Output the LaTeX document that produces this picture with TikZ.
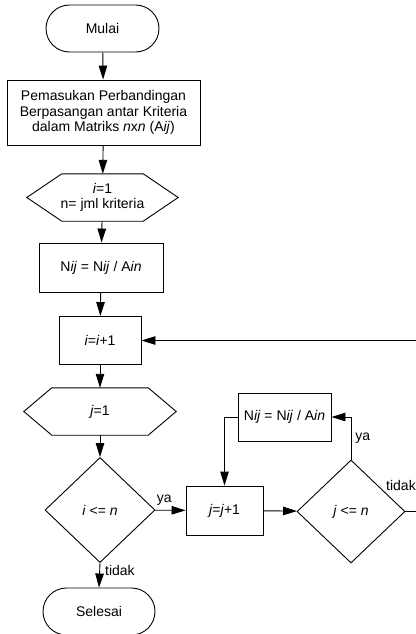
\documentclass[tikz,border=0pt]{standalone}
\usepackage{fontspec}
\setmainfont{Liberation Sans}
\usetikzlibrary{shapes.misc,shapes.geometric,arrows.meta}
\begin{document}
\begin{tikzpicture}[x=1pt,y=-1pt,
  every node/.style={font=\fontsize{14}{15.5}\selectfont, align=center, inner sep=0pt},
  terminal/.style={rounded rectangle, draw, line width=0.9pt, minimum width=113pt, minimum height=47pt},
  procbox/.style={rectangle, draw, line width=0.9pt},
  hexnode/.style={rectangle, minimum height=47pt},
  decision/.style={diamond, draw, line width=0.9pt, minimum width=110pt, minimum height=105pt},
  flow/.style={line width=0.9pt, -{Triangle[length=14pt,width=8.5pt]}},
  plain/.style={line width=0.9pt},
  lbl/.style={font=\fontsize{14}{15.5}\selectfont}
]
\useasboundingbox (0,0) rectangle (415,634);

% start / end
\node[terminal] (mulai) at (102.5,28.5) {Mulai};
\node[procbox, minimum width=193pt, minimum height=65pt] (input) at (103.5,112.5)
  {Pemasukan Perbandingan\\Berpasangan antar Kriteria\\dalam Matriks \textit{n}x\textit{n} (A\textit{ij})};

% initialisation hexagon
\node[hexnode, minimum width=151pt] (init) at (102.5,197.5) {\textit{i}=1\\n= jml kriteria};
\draw[plain] (init.west) -- ([xshift=35pt]init.north west) -- ([xshift=-35pt]init.north east)
  -- (init.east) -- ([xshift=-35pt]init.south east) -- ([xshift=35pt]init.south west) -- cycle;

\node[procbox, minimum width=124pt, minimum height=49pt] (norm1) at (101,267.5)
  {N\textit{ij} = N\textit{ij} / A\textit{in}};
\node[procbox, minimum width=82pt, minimum height=48pt] (inci) at (100,340.5) {\textit{i}=\textit{i}+1};

% second hexagon
\node[hexnode, minimum width=152pt] (initj) at (100,411.5) {\textit{j}=1};
\draw[plain] (initj.west) -- ([xshift=28pt]initj.north west) -- ([xshift=-28pt]initj.north east)
  -- (initj.east) -- ([xshift=-28pt]initj.south east) -- ([xshift=28pt]initj.south west) -- cycle;

% decisions and inner loop
\node[decision] (deci) at (100,510) {\textit{i} <= \textit{n}};
\node[procbox, minimum width=77pt, minimum height=49pt] (incj) at (224.5,510.5) {\textit{j}=\textit{j}+1};
\node[decision, minimum width=108pt, minimum height=103pt] (decj) at (351,511.5) {\textit{j} <= \textit{n}};
\node[procbox, minimum width=93pt, minimum height=48pt] (norm2) at (284.5,417) {N\textit{ij} = N\textit{ij} / A\textit{in}};

\node[terminal, minimum width=112pt] (selesai) at (99,611.5) {Selesai};

% connectors
\draw[flow] (mulai) -- (input);
\draw[flow] (input) -- (init);
\draw[flow] (init) -- (norm1);
\draw[flow] (norm1) -- (inci);
\draw[flow] (inci) -- (initj);
\draw[flow] (initj) -- (deci);
\draw[flow] (deci) -- node[lbl, pos=0.3, anchor=south, yshift=4pt] {ya} (incj);
\draw[flow] (incj) -- (decj);
\draw[flow] (deci.south) -- node[lbl, pos=0.3, anchor=west, xshift=5pt] {tidak} (selesai.north);
\draw[flow] (decj.north) |- node[lbl, pos=0.25, anchor=west, xshift=4pt] {ya} (norm2.east);
\draw[flow] (norm2.west) -| (incj.north);
\coordinate (rt) at (425,511.5);
\coordinate (rtop) at (425,340.5);
\draw[flow] (decj.east) -- (rt) -- (rtop) -- (inci.east);
\node[lbl, anchor=south west] (tdk) at (386,491) {tidak};
\end{tikzpicture}
\end{document}
